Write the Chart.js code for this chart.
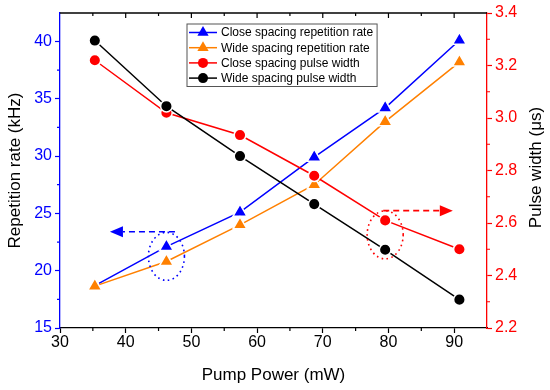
<!DOCTYPE html>
<html>
<head>
<meta charset="utf-8">
<script src="https://cdn.jsdelivr.net/npm/chart.js@4.4.1/dist/chart.umd.min.js"></script>
<style>
  body { margin: 0; background: #fff; }
  #wrap { width: 550px; height: 390px; }
</style>
</head>
<body>
<div id="wrap"><canvas id="pulseChart" width="550" height="390"></canvas></div>
<script>
const power = [35.3, 46.2, 57.4, 68.7, 79.5, 90.8];
const closeRate = [18.7, 22.1, 25.1, 29.9, 34.2, 40.1];
const wideRate = [18.65, 20.8, 24.0, 27.5, 33.0, 38.2];
const closeWidth = [3.22, 3.02, 2.935, 2.78, 2.61, 2.50];
const wideWidth = [3.295, 3.045, 2.855, 2.672, 2.498, 2.308];

const seriesNames = [
  'Close spacing repetition rate',
  'Wide spacing repetition rate',
  'Close spacing pulse width',
  'Wide spacing pulse width'
];

const xTicks = [30, 40, 50, 60, 70, 80, 90];
const xMinor = [35, 45, 55, 65, 75, 85];
const rateTicks = [15, 20, 25, 30, 35, 40];
const rateMinor = [17.5, 22.5, 27.5, 32.5, 37.5];
const widthTicks = [2.2, 2.4, 2.6, 2.8, 3.0, 3.2, 3.4];
const widthMinor = [2.3, 2.5, 2.7, 2.9, 3.1, 3.3];

// dashed arrows + dotted rings, in data units
const leftArrow = { y: 23.4, from: 47.5, to: 37.6 };
const rightArrow = { y: 2.647, from: 79.2, to: 89.8 };
const leftRing = { x: 46.2, y: 21.25 };
const rightRing = { x: 79.5, y: 2.555 };

const FONT = "'Liberation Sans', Arial, sans-serif";
const BLUE = '#0000ff', ORANGE = '#ff8000', RED = '#ff0000', BLACK = '#000000';

function pts(ys) {
  return power.map((x, i) => ({ x: x, y: ys[i] }));
}

function series(i, ys, color, style, r, axis, order) {
  return {
    label: seriesNames[i],
    data: pts(ys),
    yAxisID: axis,
    borderColor: color,
    backgroundColor: color,
    borderWidth: 1.5,
    pointStyle: style,
    pointRadius: r,
    pointBackgroundColor: color,
    pointBorderColor: '#fff',
    pointBorderWidth: 1.5,
    order: order
  };
}

function marks(ctx, scale, values, len, color, side, a) {
  ctx.strokeStyle = color;
  ctx.lineWidth = 1.2;
  ctx.beginPath();
  values.forEach(v => {
    const p = scale.getPixelForValue(v);
    if (side === 'bottom') { ctx.moveTo(p, a.bottom); ctx.lineTo(p, a.bottom + len); }
    else if (side === 'top') { ctx.moveTo(p, a.top); ctx.lineTo(p, a.top + len); }
    else if (side === 'left') { ctx.moveTo(a.left, p); ctx.lineTo(a.left - len, p); }
    else { ctx.moveTo(a.right, p); ctx.lineTo(a.right + len, p); }
  });
  ctx.stroke();
}

function arrow(ctx, xs, ys, arr, color) {
  const y = ys.getPixelForValue(arr.y);
  const x0 = xs.getPixelForValue(arr.from);
  const x1 = xs.getPixelForValue(arr.to);
  const dir = x1 > x0 ? 1 : -1;
  const base = x1 - dir * 13;
  ctx.strokeStyle = color;
  ctx.fillStyle = color;
  ctx.lineWidth = 1.6;
  ctx.setLineDash([6, 4]);
  ctx.beginPath();
  ctx.moveTo(x0, y);
  ctx.lineTo(base, y);
  ctx.stroke();
  ctx.setLineDash([]);
  ctx.beginPath();
  ctx.moveTo(x1, y);
  ctx.lineTo(base, y - 5.5);
  ctx.lineTo(base, y + 5.5);
  ctx.closePath();
  ctx.fill();
}

function ring(ctx, xs, ys, r, color) {
  ctx.strokeStyle = color;
  ctx.lineWidth = 1.6;
  ctx.setLineDash([1.6, 3.4]);
  ctx.beginPath();
  ctx.ellipse(xs.getPixelForValue(r.x), ys.getPixelForValue(r.y), 18, 24, 0, 0, Math.PI * 2);
  ctx.stroke();
  ctx.setLineDash([]);
}

const extras = {
  id: 'extras',
  afterDraw(chart) {
    const { ctx, chartArea: a, scales } = chart;
    ctx.save();
    // top frame
    ctx.strokeStyle = BLACK;
    ctx.lineWidth = 1.3;
    ctx.beginPath();
    ctx.moveTo(a.left, a.top);
    ctx.lineTo(a.right, a.top);
    ctx.stroke();

    marks(ctx, scales.x, xMinor, 3, BLACK, 'bottom', a);
    marks(ctx, scales.x, xTicks.slice(1), 5, BLACK, 'top', a);
    marks(ctx, scales.x, xMinor, 3, BLACK, 'top', a);
    marks(ctx, scales.y, rateMinor, 3, BLUE, 'left', a);
    marks(ctx, scales.y2, widthMinor, 3, RED, 'right', a);

    arrow(ctx, scales.x, scales.y, leftArrow, BLUE);
    arrow(ctx, scales.x, scales.y2, rightArrow, RED);
    ring(ctx, scales.x, scales.y, leftRing, BLUE);
    ring(ctx, scales.x, scales.y2, rightRing, RED);

    // right axis title, reading bottom to top
    ctx.save();
    ctx.translate(536, (a.top + a.bottom) / 2 - 3);
    ctx.rotate(-Math.PI / 2);
    ctx.font = '17px ' + FONT;
    ctx.fillStyle = BLACK;
    ctx.textAlign = 'center';
    ctx.textBaseline = 'middle';
    ctx.fillText('Pulse width (μs)', 0, 0);
    ctx.restore();

    // legend box
    const lx = a.left + 127, ly = a.top + 11;
    ctx.font = '12px ' + FONT;
    let tw = 0;
    chart.data.datasets.forEach(d => { tw = Math.max(tw, ctx.measureText(d.label).width); });
    ctx.fillStyle = '#fff';
    ctx.fillRect(lx, ly, tw + 38, 62.5);
    ctx.strokeStyle = '#555';
    ctx.lineWidth = 1;
    ctx.strokeRect(lx, ly, tw + 38, 62.5);
    chart.data.datasets.forEach((d, i) => {
      const cy = ly + 8.5 + i * 15.2;
      ctx.strokeStyle = d.borderColor;
      ctx.fillStyle = d.borderColor;
      ctx.lineWidth = 1.5;
      ctx.beginPath();
      ctx.moveTo(lx + 2, cy);
      ctx.lineTo(lx + 30, cy);
      ctx.stroke();
      Chart.helpers.drawPoint(ctx, {
        pointStyle: d.pointStyle,
        rotation: 0,
        radius: d.pointStyle === 'triangle' ? 6.5 : 5,
        borderWidth: 0
      }, lx + 16, cy);
      ctx.fillStyle = BLACK;
      ctx.textBaseline = 'middle';
      ctx.textAlign = 'left';
      ctx.fillText(d.label, lx + 34, cy + 0.5);
    });
    ctx.restore();
  }
};

new Chart(document.getElementById('pulseChart'), {
  type: 'line',
  data: {
    datasets: [
      series(0, closeRate, BLUE, 'triangle', 8, 'y', 4),
      series(1, wideRate, ORANGE, 'triangle', 8, 'y', 3),
      series(2, closeWidth, RED, 'circle', 5.8, 'y2', 2),
      series(3, wideWidth, BLACK, 'circle', 5.8, 'y2', 1)
    ]
  },
  options: {
    responsive: false,
    animation: false,
    layout: { padding: { top: 13, left: 0, right: 0, bottom: 0 } },
    plugins: {
      legend: { display: false },
      tooltip: { enabled: false }
    },
    scales: {
      x: {
        type: 'linear',
        min: 30,
        max: 95,
        afterBuildTicks: s => { s.ticks = xTicks.map(v => ({ value: v })); },
        afterFit: s => { s.height = 62; },
        grid: { drawOnChartArea: false, tickLength: 5, tickColor: BLACK, tickWidth: 1.2 },
        border: { color: BLACK, width: 1.3 },
        ticks: { color: BLACK, font: { size: 16, family: FONT }, padding: 0, maxRotation: 0 },
        title: {
          display: true, text: 'Pump Power (mW)', color: BLACK,
          font: { size: 17, family: FONT }, padding: { top: 0, bottom: 4 }
        }
      },
      y: {
        position: 'left',
        min: 15,
        max: 42.48,
        afterBuildTicks: s => { s.ticks = rateTicks.map(v => ({ value: v })); },
        afterFit: s => { s.width = 60; },
        grid: { drawOnChartArea: false, tickLength: 5, tickColor: BLUE, tickWidth: 1.2 },
        border: { color: BLUE, width: 1.3 },
        ticks: { color: BLUE, font: { size: 16, family: FONT }, padding: 3 },
        title: {
          display: true, text: 'Repetition rate (kHz)', color: BLACK,
          font: { size: 17, family: FONT }, padding: { top: 4.8, bottom: 0 }
        }
      },
      y2: {
        position: 'right',
        min: 2.2,
        max: 3.4,
        afterBuildTicks: s => { s.ticks = widthTicks.map(v => ({ value: v })); },
        afterFit: s => { s.width = 63; },
        grid: { drawOnChartArea: false, tickLength: 5, tickColor: RED, tickWidth: 1.2 },
        border: { color: RED, width: 1.3 },
        ticks: { color: RED, font: { size: 16, family: FONT }, padding: 3, callback: v => v.toFixed(1) },
        title: { display: false }
      }
    }
  },
  plugins: [extras]
});
</script>
</body>
</html>
